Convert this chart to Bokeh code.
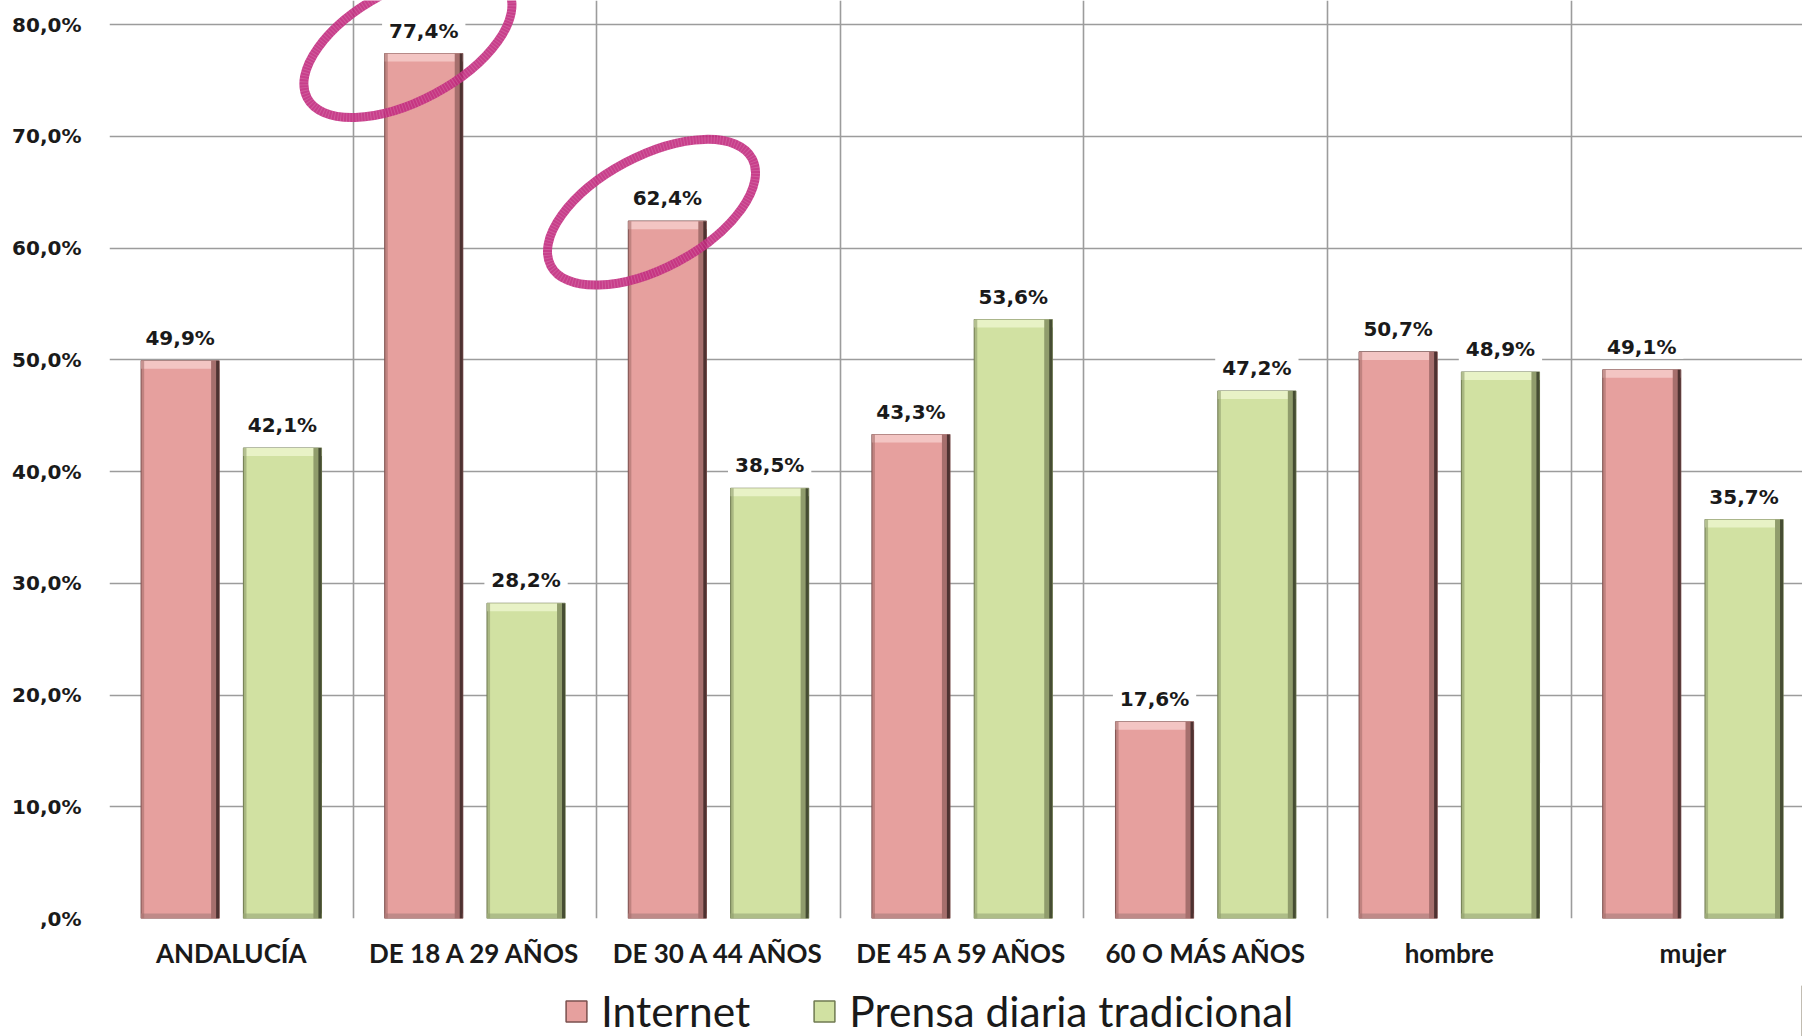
from bokeh.plotting import figure
from bokeh.layouts import column
from bokeh.models import Range1d, FixedTicker, ColumnDataSource, LabelSet, Legend, LegendItem
from bokeh.core.properties import value
from bokeh.embed import file_html
from bokeh.resources import INLINE

# ---- data ----
categories = ["ANDALUCÍA", "DE 18 A 29 AÑOS", "DE 30 A 44 AÑOS", "DE 45 A 59 AÑOS",
              "60 O MÁS AÑOS", "hombre", "mujer"]
internet = [49.9, 77.4, 62.4, 43.3, 17.6, 50.7, 49.1]
prensa = [42.1, 28.2, 38.5, 53.6, 47.2, 48.9, 35.7]
series_names = ["Internet", "Prensa diaria tradicional"]
y_ticks = [0, 10, 20, 30, 40, 50, 60, 70, 80]
y_tick_labels = [",0%", "10,0%", "20,0%", "30,0%", "40,0%", "50,0%", "60,0%", "70,0%", "80,0%"]
highlighted = ["DE 18 A 29 AÑOS", "DE 30 A 44 AÑOS"]

# ---- layout constants ----
PX = 1 / 243.6    # data-x per pixel
PY = 1 / 11.175   # data-y per pixel
W = 0.32
OFF = 0.21
FIG_W = 1802
LEFT = 109
FRAME_H = 918
MAIN_H = 985
LEG_H = 51

pink = dict(main="#e6a09e", light="#f3c5c3", bottom_c="#bf8a88", shade_in="#a66f6d",
            shade_out="#4e3231", edge="#7a4f4d")
green = dict(main="#d1e1a2", light="#e8f2c6", bottom_c="#aebd88", shade_in="#909c6c",
             shade_out="#464d33", edge="#6f7a50")

n = len(categories)
p = figure(width=FIG_W, height=MAIN_H,
           x_range=Range1d(-0.5, -0.5 + (FIG_W - LEFT) * PX), y_range=Range1d(0, FRAME_H * PY),
           output_backend="svg", toolbar_location=None,
           min_border_left=LEFT, min_border_right=0, min_border_top=0,
           min_border_bottom=MAIN_H - FRAME_H)
p.outline_line_color = None
p.background_fill_color = "white"

# grids
p.xgrid.ticker = FixedTicker(ticks=[i - 0.5 for i in range(n + 1)])
p.ygrid.ticker = FixedTicker(ticks=y_ticks)
for g in (p.xgrid, p.ygrid):
    g.grid_line_color = "#9c9c9c"
    g.grid_line_width = 1.6

# axes
p.xaxis.ticker = FixedTicker(ticks=list(range(n)))
p.xaxis.major_label_overrides = {i: c for i, c in enumerate(categories)}
p.yaxis.ticker = FixedTicker(ticks=y_ticks)
p.yaxis.major_label_overrides = {t: l for t, l in zip(y_ticks, y_tick_labels)}
for ax in (p.xaxis, p.yaxis):
    ax.axis_line_color = None
    ax.major_tick_line_color = None
    ax.minor_tick_line_color = None
    ax.major_tick_out = 0
    ax.major_label_text_color = "#1a1a1a"
p.xaxis.major_label_text_font = "Lato"
p.xaxis.major_label_text_font_style = "bold"
p.xaxis.major_label_text_font_size = "26px"
p.xaxis.major_label_standoff = 18
p.yaxis.major_label_text_font = "DejaVu Sans"
p.yaxis.major_label_text_font_style = "bold"
p.yaxis.major_label_text_font_size = "20px"
p.yaxis.major_label_standoff = 28


def draw_bars(fig, xs, vals, c):
    r = fig.vbar(x=xs, top=vals, bottom=0, width=W, fill_color=c["main"],
                 line_color=c["edge"], line_width=1.2)
    fig.vbar(x=xs, top=vals, bottom=[v - 8 * PY for v in vals], width=W,
             fill_color=c["light"], line_color=None)
    fig.vbar(x=xs, top=5 * PY, bottom=0, width=W, fill_color=c["bottom_c"], line_color=None)
    fig.vbar(x=[x - W / 2 + 1.5 * PX for x in xs], top=vals, bottom=0, width=3 * PX,
             fill_color=c["shade_in"], fill_alpha=0.6, line_color=None)
    fig.vbar(x=[x + W / 2 - 5 * PX for x in xs], top=vals, bottom=0, width=6 * PX,
             fill_color=c["shade_in"], line_color=None)
    fig.vbar(x=[x + W / 2 - 1.5 * PX for x in xs], top=vals, bottom=0, width=3 * PX,
             fill_color=c["shade_out"], line_color=None)
    return r


x_int = [i - OFF for i in range(n)]
x_pre = [i + OFF for i in range(n)]
draw_bars(p, x_int, internet, pink)
draw_bars(p, x_pre, prensa, green)

# highlight ellipses around selected Internet values
hx = [categories.index(c) - OFF - 0.065 for c in highlighted]
hy = [internet[categories.index(c)] + 0.8 for c in highlighted]
p.ellipse(x=hx, y=hy, width=228, height=112, width_units="screen", height_units="screen",
          angle=0.489, fill_color=None, line_color="#c22a7e", line_width=9, line_alpha=0.9)
p.ellipse(x=hx, y=hy, width=228, height=112, width_units="screen", height_units="screen",
          angle=0.489, fill_color=None, line_color="white", line_width=9, line_alpha=0.15,
          line_dash="1 2")

# value labels
def fmt(v):
    return "\u00a0" + f"{v:.1f}".replace(".", ",") + "%\u00a0"

lab_src = ColumnDataSource(dict(x=x_int + x_pre, y=internet + prensa,
                                t=[fmt(v) for v in internet + prensa]))
labels = LabelSet(x="x", y="y", text="t", source=lab_src, y_offset=23,
                  text_align="center", text_baseline="middle",
                  text_font=value("DejaVu Sans"), text_font_style="bold", text_font_size="20px",
                  text_color="#1a1a1a", background_fill_color="white")
p.add_layout(labels)

# ---- legend strip below the chart ----
pl = figure(width=FIG_W, height=LEG_H, x_range=Range1d(0, 1), y_range=Range1d(0, 1),
            output_backend="svg", toolbar_location=None, min_border=0)
pl.axis.visible = False
pl.grid.visible = False
pl.outline_line_color = None
# legend swatches: one bar each, placed outside the visible range
lr_int = pl.vbar(x=[5], top=[5], width=0.1, fill_color=pink["main"], line_color=pink["edge"], line_width=1.5)
lr_pre = pl.vbar(x=[5], top=[5], width=0.1, fill_color=green["main"], line_color=green["edge"], line_width=1.5)
legend = Legend(items=[LegendItem(label=series_names[0], renderers=[lr_int]),
                       LegendItem(label=series_names[1], renderers=[lr_pre])],
                orientation="horizontal", location=(454, 0),
                padding=0, margin=0, border_line_color=None, background_fill_alpha=0,
                glyph_width=26, glyph_height=26, label_standoff=12, spacing=61,
                label_text_font="Lato", label_text_font_size="42.5px", label_text_color="#1a1a1a")
pl.add_layout(legend)

layout = column(p, pl, spacing=0)
open("out.html", "w").write(file_html(layout, INLINE))
